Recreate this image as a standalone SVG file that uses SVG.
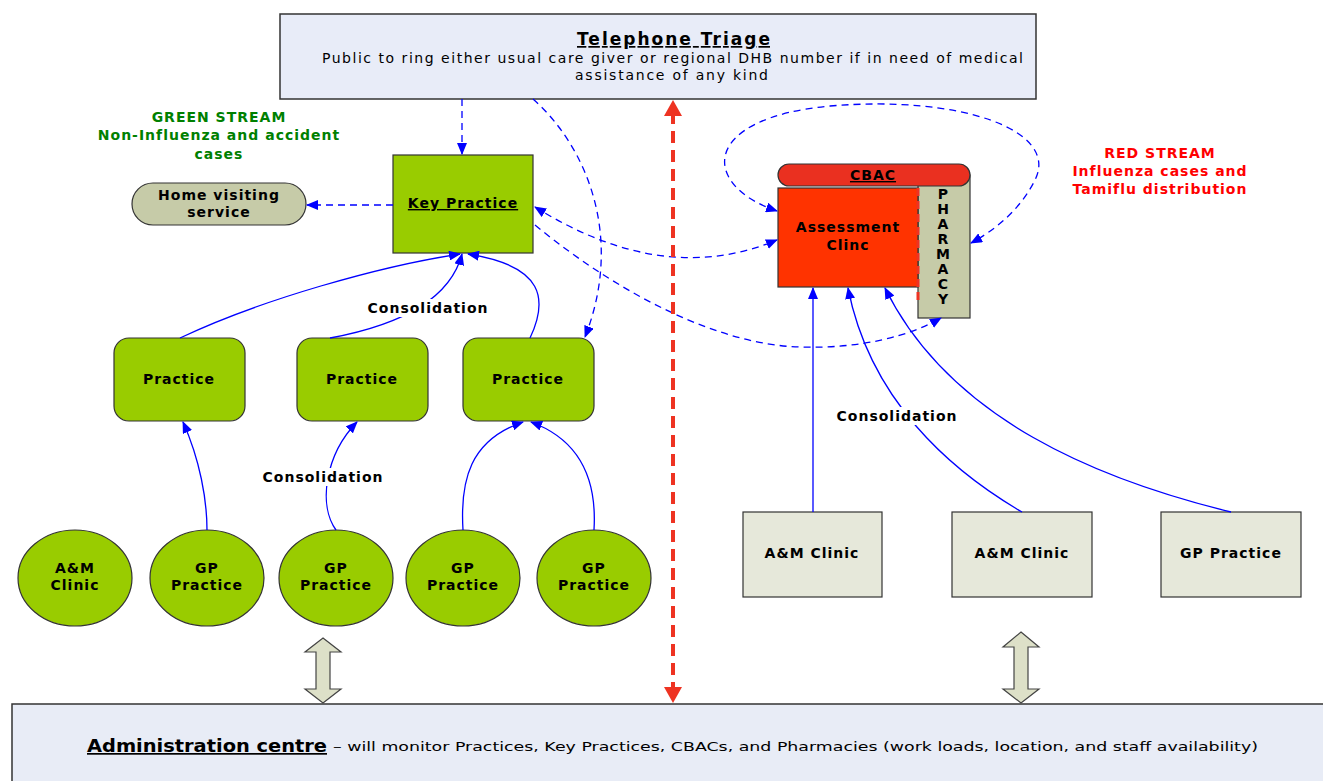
<svg xmlns="http://www.w3.org/2000/svg" width="1323" height="781" viewBox="0 0 1323 781">
<style>
text{font-family:"DejaVu Sans","Liberation Sans",sans-serif;fill:#000}
.b{font-weight:bold}
.lbl{font-size:14px;font-weight:bold;letter-spacing:1px}
.sol{fill:none;stroke:#0000ff;stroke-width:1.3}
.das{fill:none;stroke:#0000ff;stroke-width:1.3;stroke-dasharray:7 5}
.grn{fill:#99cc00;stroke:#333;stroke-width:1.2}
</style>
<defs>
<marker id="ab" viewBox="0 0 12 10" refX="11" refY="5" markerWidth="12" markerHeight="10" markerUnits="userSpaceOnUse" orient="auto-start-reverse"><path d="M0,0 L12,5 L0,10 Z" fill="#0000ff"/></marker>
</defs>
<rect width="1323" height="781" fill="#fff"/>

<g id="triage">
<rect x="280" y="14" width="756" height="85" fill="#e8ecf8" stroke="#333" stroke-width="1.5"/>
<text x="577" y="45" class="b" font-size="17" text-decoration="underline" textLength="193" lengthAdjust="spacing">Telephone Triage</text>
<text x="322" y="63" font-size="14" textLength="701" lengthAdjust="spacing">Public to ring either usual care giver or regional DHB number if in need of medical</text>
<text x="575" y="80" font-size="14" textLength="193" lengthAdjust="spacing">assistance of any kind</text>
</g>

<g id="admin">
<rect x="12" y="704" width="1320" height="80" fill="#e8ecf6" stroke="#333" stroke-width="1.5"/>
<text x="87" y="752" class="b" font-size="17" text-decoration="underline" textLength="240" lengthAdjust="spacingAndGlyphs">Administration centre</text>
<text x="333" y="751" font-size="13" textLength="925" lengthAdjust="spacingAndGlyphs">– will monitor Practices, Key Practices, CBACs, and Pharmacies (work loads, location, and staff availability)</text>
</g>

<g id="green-stream">
<text x="219" y="122" text-anchor="middle" class="lbl" style="fill:#008000">GREEN STREAM</text>
<text x="219" y="140" text-anchor="middle" class="lbl" style="fill:#008000">Non-Influenza and accident</text>
<text x="219" y="159" text-anchor="middle" class="lbl" style="fill:#008000">cases</text>
</g>

<g id="red-stream">
<text x="1160" y="158" text-anchor="middle" class="lbl" style="fill:#ff0000">RED STREAM</text>
<text x="1160" y="176" text-anchor="middle" class="lbl" style="fill:#ff0000">Influenza cases and</text>
<text x="1160" y="194" text-anchor="middle" class="lbl" style="fill:#ff0000">Tamiflu distribution</text>
</g>

<g id="home-visiting">
<rect x="132" y="183" width="174" height="42" rx="21" fill="#c6cba8" stroke="#333" stroke-width="1.2"/>
<text x="219" y="200" text-anchor="middle" class="lbl">Home visiting</text>
<text x="219" y="217" text-anchor="middle" class="lbl">service</text>
</g>

<g id="key-practice">
<rect x="393" y="155" width="140" height="98" class="grn"/>
<text x="463" y="208" text-anchor="middle" class="lbl" text-decoration="underline">Key Practice</text>
</g>

<g id="practice-1"><rect x="114" y="338" width="131" height="83" rx="15" class="grn"/><text x="179" y="384" text-anchor="middle" class="lbl">Practice</text></g>
<g id="practice-2"><rect x="297" y="338" width="131" height="83" rx="15" class="grn"/><text x="362" y="384" text-anchor="middle" class="lbl">Practice</text></g>
<g id="practice-3"><rect x="463" y="338" width="131" height="83" rx="15" class="grn"/><text x="528" y="384" text-anchor="middle" class="lbl">Practice</text></g>

<g id="am-clinic-circle"><ellipse cx="75" cy="578" rx="57" ry="48" class="grn"/><text x="75" y="573" text-anchor="middle" class="lbl">A&amp;M</text><text x="75" y="590" text-anchor="middle" class="lbl">Clinic</text></g>
<g id="gp-circle-1"><ellipse cx="207" cy="578" rx="57" ry="48" class="grn"/><text x="207" y="573" text-anchor="middle" class="lbl">GP</text><text x="207" y="590" text-anchor="middle" class="lbl">Practice</text></g>
<g id="gp-circle-2"><ellipse cx="336" cy="578" rx="57" ry="48" class="grn"/><text x="336" y="573" text-anchor="middle" class="lbl">GP</text><text x="336" y="590" text-anchor="middle" class="lbl">Practice</text></g>
<g id="gp-circle-3"><ellipse cx="463" cy="578" rx="57" ry="48" class="grn"/><text x="463" y="573" text-anchor="middle" class="lbl">GP</text><text x="463" y="590" text-anchor="middle" class="lbl">Practice</text></g>
<g id="gp-circle-4"><ellipse cx="594" cy="578" rx="57" ry="48" class="grn"/><text x="594" y="573" text-anchor="middle" class="lbl">GP</text><text x="594" y="590" text-anchor="middle" class="lbl">Practice</text></g>

<g id="pharmacy">
<rect x="918" y="175" width="52" height="143" fill="#c6cba8" stroke="#333" stroke-width="1.2"/>
<g class="lbl" text-anchor="middle" style="letter-spacing:0">
<text x="943" y="199">P</text><text x="943" y="214">H</text><text x="943" y="229">A</text><text x="943" y="244">R</text><text x="943" y="259">M</text><text x="943" y="274">A</text><text x="943" y="289">C</text><text x="943" y="304">Y</text>
</g>
</g>

<g id="cbac">
<rect x="778" y="164" width="192" height="22" rx="11" fill="#ea3020" stroke="#333" stroke-width="1.2"/>
<text x="873" y="180" text-anchor="middle" class="lbl" text-decoration="underline">CBAC</text>
</g>

<g id="assessment-clinic">
<rect x="778" y="188" width="140" height="99" fill="#ff3300" stroke="#333" stroke-width="1.2"/>
<line x1="918" y1="188" x2="918" y2="300" stroke="#ee3322" stroke-width="3" stroke-dasharray="8 5"/>
<text x="848" y="232" text-anchor="middle" class="lbl">Assessment</text>
<text x="848" y="250" text-anchor="middle" class="lbl">Clinc</text>
</g>

<g id="am-clinic-box-1"><rect x="743" y="512" width="139" height="85" fill="#e6e8da" stroke="#333" stroke-width="1.2"/><text x="812" y="558" text-anchor="middle" class="lbl">A&amp;M Clinic</text></g>
<g id="am-clinic-box-2"><rect x="952" y="512" width="140" height="85" fill="#e6e8da" stroke="#333" stroke-width="1.2"/><text x="1022" y="558" text-anchor="middle" class="lbl">A&amp;M Clinic</text></g>
<g id="gp-practice-box"><rect x="1161" y="512" width="140" height="85" fill="#e6e8da" stroke="#333" stroke-width="1.2"/><text x="1231" y="558" text-anchor="middle" class="lbl">GP Practice</text></g>

<g id="connectors">
<path class="das" d="M462,99 L462,154" marker-end="url(#ab)"/>
<path class="das" d="M393,205 L307,205" marker-end="url(#ab)"/>
<path class="das" d="M533,99 C585,145 625,235 585,337" marker-end="url(#ab)"/>
<path class="das" d="M535,207 C620,260 700,272 777,240" marker-start="url(#ab)" marker-end="url(#ab)"/>
<path class="das" d="M535,225 C620,295 720,345 800,347 C860,349 910,336 941,318" marker-end="url(#ab)"/>
<path class="das" d="M777,211 C700,185 700,118 830,106 C960,95 1060,130 1035,180 C1020,210 995,230 971,243" marker-start="url(#ab)" marker-end="url(#ab)"/>
<path class="sol" d="M180,338 C260,300 380,266 460,254" marker-end="url(#ab)"/>
<path class="sol" d="M330,338 C400,325 450,300 462,254" marker-end="url(#ab)"/>
<path class="sol" d="M530,338 C548,300 545,266 468,254" marker-end="url(#ab)"/>
<path class="sol" d="M207,530 C207,500 200,460 183,422" marker-end="url(#ab)"/>
<path class="sol" d="M336,530 C318,505 325,455 357,422" marker-end="url(#ab)"/>
<path class="sol" d="M463,530 C460,480 470,440 523,422" marker-end="url(#ab)"/>
<path class="sol" d="M594,530 C597,480 580,440 531,422" marker-end="url(#ab)"/>
<path class="sol" d="M813,512 L813,288" marker-end="url(#ab)"/>
<path class="sol" d="M1022,512 C950,470 870,400 848,288" marker-end="url(#ab)"/>
<path class="sol" d="M1231,512 C1100,480 950,420 885,288" marker-end="url(#ab)"/>
<path d="M673,112 L673,690" stroke="#ee3322" stroke-width="4" stroke-dasharray="12 7" fill="none"/>
<path d="M673,100 L664,116 L682,116 Z" fill="#ee3322"/>
<path d="M673,703 L664,687 L682,687 Z" fill="#ee3322"/>
<path d="M323,638 L341,652 L330,652 L330,689 L341,689 L323,703 L305,689 L316,689 L316,652 L305,652 Z" fill="#dde0c8" stroke="#444" stroke-width="1.2"/>
<path d="M1021,632 L1039,647 L1028,647 L1028,689 L1039,689 L1021,703 L1003,689 L1014,689 L1014,647 L1003,647 Z" fill="#dde0c8" stroke="#444" stroke-width="1.2"/>
<rect x="360" y="299" width="136" height="18" fill="#fff"/>
<text x="428" y="313" text-anchor="middle" class="lbl">Consolidation</text>
<rect x="255" y="468" width="136" height="18" fill="#fff"/>
<text x="323" y="482" text-anchor="middle" class="lbl">Consolidation</text>
<rect x="829" y="407" width="136" height="18" fill="#fff"/>
<text x="897" y="421" text-anchor="middle" class="lbl">Consolidation</text>
</g>
</svg>
